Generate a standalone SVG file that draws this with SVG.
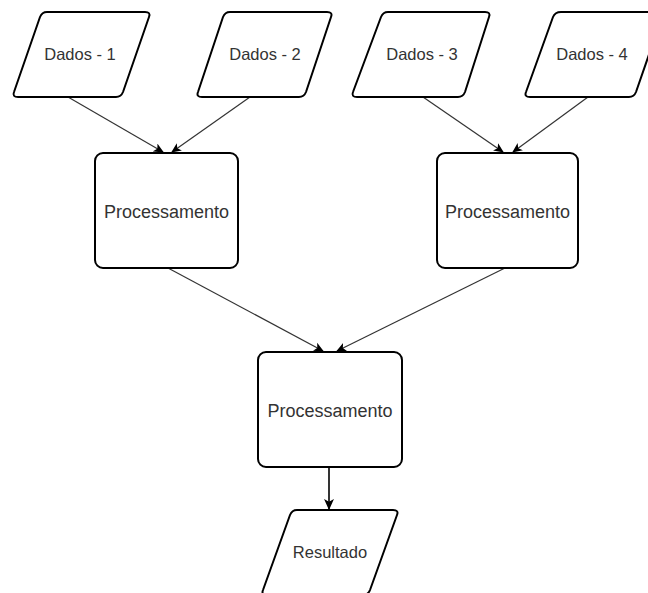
<svg xmlns="http://www.w3.org/2000/svg" width="648" height="593" viewBox="0 0 648 593">
<defs>
<style>
.shape{fill:#ffffff;stroke:#000000;stroke-width:2;stroke-linejoin:round}
.lbl{font-family:"Liberation Sans",Arial,Helvetica,sans-serif;fill:#333333;text-anchor:middle}
.d{font-size:16.5px}
.p{font-size:18px}
.conn{stroke:#333333;stroke-width:1.2;fill:none}
.conn2{stroke:#000000;stroke-width:1.6;fill:none}
</style>
<marker id="arr" viewBox="0 0 10 10" refX="9" refY="5" markerWidth="10" markerHeight="10" markerUnits="userSpaceOnUse" orient="auto">
<path d="M0,0.5 L10,5 L0,9.5 L2.5,5 Z" fill="#000000"/>
</marker>
<marker id="arr2" viewBox="0 0 10 10" refX="9" refY="5" markerWidth="11" markerHeight="11" markerUnits="userSpaceOnUse" orient="auto">
<path d="M0,0.5 L10,5 L0,9.5 L2.5,5 Z" fill="#000000"/>
</marker>
</defs>
<rect width="648" height="593" fill="#ffffff"/>
<g id="connectors">
<line class="conn" x1="68" y1="97" x2="163" y2="152" marker-end="url(#arr)"/>
<line class="conn" x1="250" y1="97" x2="172" y2="152" marker-end="url(#arr)"/>
<line class="conn" x1="423" y1="97" x2="503" y2="152" marker-end="url(#arr)"/>
<line class="conn" x1="588" y1="97" x2="513" y2="152" marker-end="url(#arr)"/>
<line class="conn" x1="168" y1="268" x2="323" y2="351" marker-end="url(#arr)"/>
<line class="conn" x1="505" y1="268" x2="337" y2="351" marker-end="url(#arr)"/>
<line class="conn2" x1="329" y1="467" x2="329" y2="509" marker-end="url(#arr2)"/>
</g>
<g id="dados1">
<path class="shape" d="M47,12 L145,12 Q151,12 149,17 L123,92 Q121,97 116,97 L18,97 Q12,97 14,92 L40,17 Q42,12 47,12 Z"/>
<text class="lbl d" x="80" y="60">Dados - 1</text>
</g>
<g id="dados2">
<path class="shape" d="M230,12 L327,12 Q333,12 331,17 L306,92 Q304,97 299,97 L202,97 Q196,97 198,92 L223,17 Q225,12 230,12 Z"/>
<text class="lbl d" x="265" y="60">Dados - 2</text>
</g>
<g id="dados3">
<path class="shape" d="M388,12 L485,12 Q491,12 489,17 L465,92 Q463,97 458,97 L357,97 Q351,97 353,92 L381,17 Q383,12 388,12 Z"/>
<text class="lbl d" x="422" y="60">Dados - 3</text>
</g>
<g id="dados4">
<path class="shape" d="M561,12 L658,12 Q664,12 662,17 L636,92 Q634,97 629,97 L530,97 Q524,97 526,92 L553,17 Q555,12 561,12 Z"/>
<text class="lbl d" x="592" y="60">Dados - 4</text>
</g>
<g id="proc1">
<rect class="shape" x="95" y="153" width="143" height="115" rx="8" ry="8"/>
<text class="lbl p" x="166.5" y="218">Processamento</text>
</g>
<g id="proc2">
<rect class="shape" x="437" y="153" width="141" height="115" rx="8" ry="8"/>
<text class="lbl p" x="507.5" y="218">Processamento</text>
</g>
<g id="proc3">
<rect class="shape" x="258" y="352" width="144" height="115" rx="8" ry="8"/>
<text class="lbl p" x="330" y="417">Processamento</text>
</g>
<g id="resultado">
<path class="shape" d="M297,510 L393,510 Q399,510 397,515 L370,590 Q368,595 363,595 L267,595 Q261,595 263,590 L290,515 Q292,510 297,510 Z"/>
<text class="lbl d" x="330" y="558">Resultado</text>
</g>
</svg>
